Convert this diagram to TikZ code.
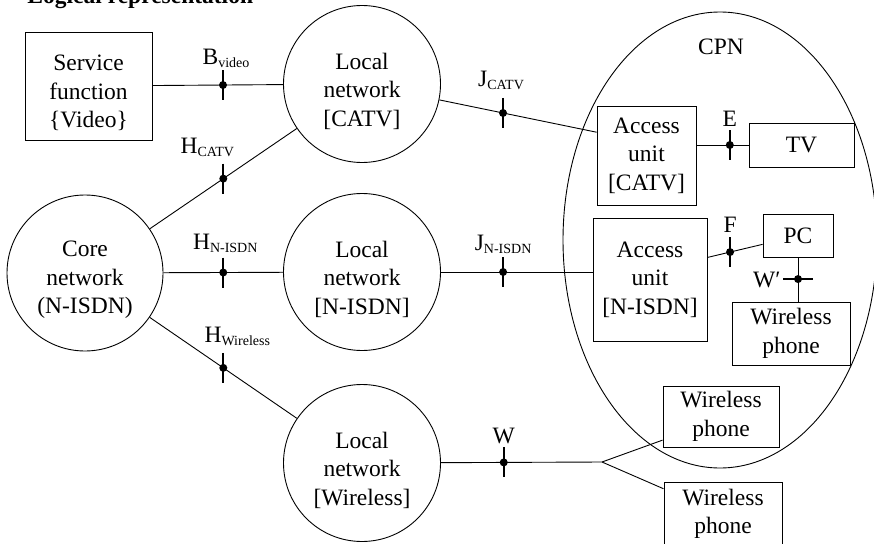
\documentclass[tikz,border=0pt]{standalone}
\usepackage{fontspec}
\setmainfont{Liberation Serif}
\usetikzlibrary{shapes.geometric}

\newcommand{\subtxt}[1]{\raisebox{-3pt}{\fontsize{14}{14}\selectfont #1}}
\newcommand{\plug}[1]{\draw[line width=1.8pt] ([yshift=15pt]#1) -- ([yshift=-15pt]#1); \fill (#1) circle (4pt);}

\begin{document}
\begin{tikzpicture}[x=1pt, y=-1pt, line width=0.9pt,
  every node/.style={font=\fontsize{23.5}{28.5}\selectfont},
  net/.style={circle, draw, minimum size=157pt, inner sep=0pt},
  devbox/.style={rectangle, draw, align=center, inner sep=0pt},
  txt/.style={align=center, yshift=-7pt},
  lbl/.style={anchor=base, inner sep=0pt}]

\useasboundingbox (0,0) rectangle (874,543);

%% title
\node[anchor=base west, inner sep=0pt, font=\fontsize{23.5}{28.5}\selectfont\bfseries] (title) at (27,4) {Logical representation};

%% networks and service function
\path
(88.5,86) node[devbox, minimum width=127pt, minimum height=108pt, label={[txt]center:Service\\function\\\{Video\}}](svc){}
(362,84) node[net, label={[txt]center:Local\\network\\{[CATV]}}](lcatv){}
(85,273) node[net, minimum size=156pt, label={[txt]center:Core\\network\\(N-ISDN)}](core){}
(362,272) node[net, label={[txt]center:Local\\network\\{[N-ISDN]}}](lisdn){}
(362,463) node[net, label={[txt]center:Local\\network\\{[Wireless]}}](lwl){};

%% customer premises
\node[draw, ellipse, minimum width=314pt, minimum height=456pt, inner sep=0pt](cpn) at (720,240){};
\node (cpnlbl) at (721,47) {CPN};

\path
(646.5,155.5) node[devbox, minimum width=99pt, minimum height=99pt](aucatv){Access\\unit\\{[CATV]}}
(801.5,145) node[devbox, minimum width=105pt, minimum height=44pt](tv){TV}
(650,279.5) node[devbox, minimum width=114pt, minimum height=123pt](auisdn){Access\\unit\\{[N-ISDN]}}
(798,235.5) node[devbox, minimum width=70pt, minimum height=43pt](pc){PC}
(791,333.5) node[devbox, minimum width=118pt, minimum height=63pt](wp1){Wireless\\phone}
(721,416.5) node[devbox, minimum width=116pt, minimum height=61pt](wp2){Wireless\\phone}
(723,514) node[devbox, minimum width=118pt, minimum height=64pt](wp3){Wireless\\phone};

\coordinate (br) at (602,462);

%% links with reference points
\draw (svc) -- (lcatv) coordinate[pos=0.54](bv);
\draw (core) -- (lcatv) coordinate[pos=0.5](hcatv);
\draw (core) -- (lisdn) coordinate[pos=0.5](hisdn);
\draw (core) -- (lwl) coordinate[pos=0.5](hwl);
\draw (lcatv) -- (aucatv.155) coordinate[pos=0.405](jcatv);
\draw (lisdn) -- (lisdn -| auisdn.west) coordinate[pos=0.41](jisdn);
\draw (aucatv.east |- tv) -- (tv) coordinate[pos=0.64](e);
\draw (auisdn.21) -- (pc.194) coordinate[pos=0.41](f);
\draw (pc) -- (pc |- wp1.north) coordinate[pos=0.49](wprime);
\draw (lwl) -- (br) coordinate[pos=0.39](w);
\draw (br) -- (wp2.202);
\draw (br) -- (wp3.157);

\plug{bv} \plug{hcatv} \plug{hisdn} \plug{hwl}
\plug{jcatv} \plug{jisdn} \plug{e} \plug{f} \plug{w}
\draw[line width=1.8pt] ([xshift=-15pt]wprime) -- ([xshift=15pt]wprime);
\fill (wprime) circle (4pt);

%% labels of reference points
\node[lbl] (lbv) at ([xshift=3pt,yshift=21pt]bv) {B\subtxt{video}};
\node[lbl] (lhcatv) at ([xshift=-16pt,yshift=25pt]hcatv) {H\subtxt{CATV}};
\node[lbl] (lhisdn) at ([xshift=2pt,yshift=23pt]hisdn) {H\subtxt{N-ISDN}};
\node[lbl] (lhwl) at ([xshift=14pt,yshift=25pt]hwl) {H\subtxt{Wireless}};
\node[lbl] (ljcatv) at ([xshift=-2pt,yshift=26pt]jcatv) {J\subtxt{CATV}};
\node[lbl] (ljisdn) at ([yshift=22pt]jisdn) {J\subtxt{N-ISDN}};
\node[lbl] (le) at ([yshift=19pt]e) {E};
\node[lbl] (lf) at ([yshift=20pt]f) {F};
\node[lbl] (lw) at ([yshift=19pt]w) {W};
\node[lbl, anchor=base east] (lwprime) at ([xshift=-17pt,yshift=-8pt]wprime) {W′};

\end{tikzpicture}
\end{document}
